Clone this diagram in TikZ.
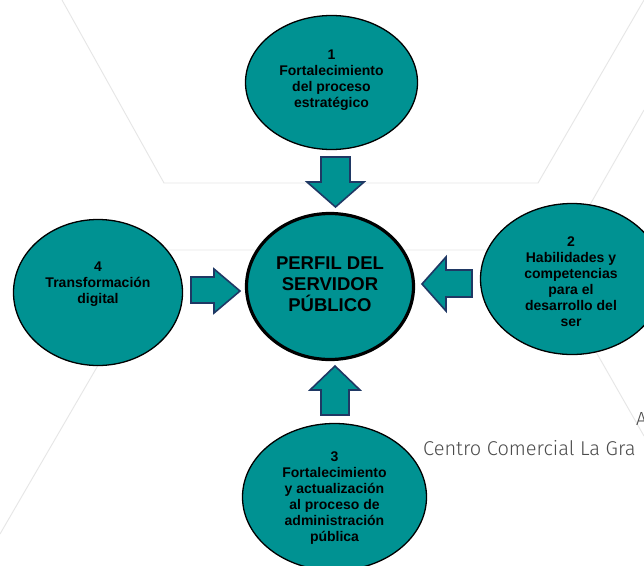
\documentclass[tikz,border=0pt]{standalone}
\usepackage{fontspec}
\setmainfont{Liberation Sans}
\newfontfamily\bgfont{Fira Sans}[UprightFont=* Light]
\usetikzlibrary{shapes.geometric}
\definecolor{tealfill}{RGB}{0,146,146}
\definecolor{arrowline}{RGB}{31,56,100}
\definecolor{hexline}{RGB}{230,230,230}
\definecolor{bgtext}{RGB}{75,75,75}
\begin{document}
\begin{tikzpicture}[x=1pt,y=-1pt,
  bubble/.style={ellipse, draw=black, line width=1.3pt, fill=tealfill, inner sep=0pt},
  core/.style={bubble, line width=3.2pt},
  lbl/.style={align=center, font=\bfseries\fontsize{14}{16}\selectfont, inner sep=0pt},
  corelbl/.style={align=center, font=\bfseries\fontsize{18.5}{21}\selectfont, inner sep=0pt},
  blockarrow/.style={draw=arrowline, line width=1.6pt, fill=tealfill, line join=miter},
  hex/.style={draw=hexline, line width=0.9pt},
  bg/.style={font=\bgfont\fontsize{20}{24}\selectfont, text=bgtext, inner sep=0pt, anchor=base west}]
\useasboundingbox (0,0) rectangle (644,565);
\clip (0,0) rectangle (644,565);
\fill[white] (0,0) rectangle (644,565);
% faint background hexagon lines
\draw[hex] (62,0) -- (164,183) -- (538,183) -- (644,0);
\draw[hex] (0,534) -- (165,250) -- (564,250);
\draw[hex] (644,110) -- (551,273) -- (644,436);
% background text
\node[bg] (addr) at (423,455) {Centro Comercial La Gra};
\node[bg, font=\bgfont\fontsize{19}{22}\selectfont] (av) at (636,425) {A};
% ellipses
\node[bubble, minimum width=172pt, minimum height=134pt] (n1) at (331.5,82.5) {};
\node[core, minimum width=167pt, minimum height=146pt] (c) at (330,286.5) {};
\node[bubble, minimum width=169pt, minimum height=146pt] (n4) at (98,292.5) {};
\node[bubble, minimum width=183pt, minimum height=151pt] (n2) at (572,279) {};
\node[bubble, minimum width=184pt, minimum height=147pt] (n3) at (334.5,497) {};
% labels
\node[lbl] (t1) at (331.5,80) {1\\Fortalecimiento\\del proceso\\estratégico};
\node[corelbl] (tc) at (330,284) {PERFIL DEL\\SERVIDOR\\PÚBLICO};
\node[lbl] (t4) at (98,284) {4\\Transformación\\digital};
\node[lbl] (t2) at (571,281.5) {2\\Habilidades y\\competencias\\para el\\desarrollo del\\ser};
\node[lbl] (t3) at (334.5,498) {3\\Fortalecimiento\\y actualización\\al proceso de\\administración\\pública};
% block arrows
\draw[blockarrow] (321,157) -- (350,157) -- (350,182) -- (364,182) -- (335.5,207) -- (307,182) -- (321,182) -- cycle;
\draw[blockarrow] (335,366) -- (360,390) -- (349,390) -- (349,415) -- (321,415) -- (321,390) -- (310,390) -- cycle;
\draw[blockarrow] (191,277) -- (214,277) -- (214,269) -- (240,291) -- (214,313) -- (214,303) -- (191,303) -- cycle;
\draw[blockarrow] (422,284) -- (446,257) -- (446,270) -- (472,270) -- (472,297) -- (446,297) -- (446,311) -- cycle;
\end{tikzpicture}
\end{document}
